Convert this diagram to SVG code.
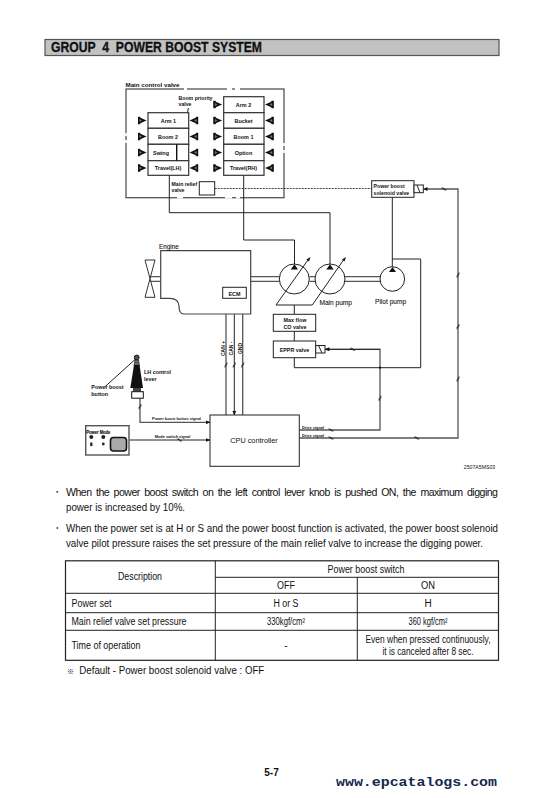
<svg xmlns="http://www.w3.org/2000/svg" width="548" height="798" viewBox="0 0 548 798">
<style>
text{font-family:"Liberation Sans",Arial,sans-serif;fill:#111}
.box{fill:#fff;stroke:#222;stroke-width:1}
.w{fill:#fff;stroke:#333;stroke-width:1.2}
.ln{fill:none;stroke:#222;stroke-width:1}
.g{fill:none;stroke:#555;stroke-width:1.3}
.t5{font-size:5.4px;font-weight:bold;text-anchor:middle}
.l5{font-size:5.2px;font-weight:bold}
.s4{font-size:3.9px;font-weight:bold;text-anchor:middle}
.rot{font-size:5px;font-weight:bold;text-anchor:middle}
.b{font-size:10.6px}
.c{font-size:10px;text-anchor:middle}
.tl{font-size:10px}
.tb{fill:none;stroke:#222;stroke-width:1}
</style>
<defs>
<marker id="ah" markerWidth="5" markerHeight="4" refX="4.5" refY="2" orient="auto" markerUnits="userSpaceOnUse"><path d="M0 0L5 2L0 4Z" fill="#111"/></marker>
<g id="pE"><rect x="0" y="-.7" width="2.2" height="7.4" fill="#111"/><path d="M0-.7L8.6 3L0 6.7Z" fill="#111"/><path d="M1.4 1.5L4 3L1.4 4.5Z" fill="#777"/></g>
<g id="pL"><rect x="6.4" y="-.7" width="2.2" height="7.4" fill="#111"/><path d="M8.6-.7L0 3L8.6 6.7Z" fill="#111"/><path d="M7.2 1.5L4.6 3L7.2 4.5Z" fill="#777"/></g>
<path id="tick" d="M-1.6 1.1L1.6-1.1M-1.1 2.6L1.1-2.6" fill="none" stroke="#222" stroke-width=".8"/>
</defs>

<g id="title">
<rect x="45" y="39.5" width="454" height="16" fill="#c2c2c2" stroke="#555" stroke-width="1.2"/>
<text x="51" y="52.4" font-size="14" font-weight="bold" stroke="#111" stroke-width=".3" textLength="211" lengthAdjust="spacingAndGlyphs" style="white-space:pre">GROUP  4  POWER BOOST SYSTEM</text>
</g>

<g id="connectors">
<rect class="g" x="126" y="89" width="158" height="108.7"/>
<path d="M184 89H187M227 89H232M235 89H240M126 133V136M126 140V143M284 143V146M284 150V153M177 197.7H183M225 197.7H232M236 197.7H240" stroke="#fff" stroke-width="1.8" fill="none"/>
<path class="ln" d="M169.3 175V212.7H330V264"/>
<path class="ln" d="M243.7 175V240H294.5V264"/>
<path d="M214.7 188.5H371.7" fill="none" stroke="#444" stroke-width="1.2" stroke-dasharray="2 1"/>
<path class="g" d="M423.3 189H458V438H299.3"/>
<path class="ln" d="M392.3 197.3V267"/>
<path class="ln" d="M392.3 259H420.7V367.7H294.3V357.7"/>
<path class="g" d="M299.3 430H380V349.3H330"/>
<path class="ln" d="M380 349.3H325" marker-end="url(#ah)"/>
<path class="ln" d="M294.3 305V314.3M294.3 331.3V341"/>
<path class="g" d="M250.7 276.7H279.5M250.7 281.3H279.5M309.5 276.7H315M309.5 281.3H315M345 276.7H380M345 281.3H380"/>
<path class="g" d="M150 276.7H160.7M150 281.3H160.7"/>
<path class="g" d="M226 415V298.5" marker-end="url(#ah)"/>
<path class="ln" d="M234.3 298.3V415" marker-end="url(#ah)"/>
<path class="g" d="M242.7 298.3V415"/>
<path class="g" d="M140 398V422.3H210" marker-end="url(#ah)"/>
<path class="ln" d="M129 440H210" marker-end="url(#ah)"/>
<path class="ln" d="M105 386.7L136.7 358"/>
<path class="ln" d="M188.4 108L181 147.5"/>
<use href="#tick" x="444" y="189" transform="rotate(90 444 189)"/>
<use href="#tick" x="458" y="275"/>
<use href="#tick" x="458" y="326.7"/>
<use href="#tick" x="458" y="379"/>
<use href="#tick" x="380" y="398.3"/>
<use href="#tick" x="226" y="365"/>
<use href="#tick" x="234.3" y="365"/>
<use href="#tick" x="242.7" y="365"/>
<use href="#tick" x="140" y="406.7"/>
<use href="#tick" x="179.5" y="440" transform="rotate(90 179.5 440)"/>
<use href="#tick" x="352.7" y="349.3" transform="rotate(90 352.7 349.3)"/>
<use href="#tick" x="331" y="430" transform="rotate(90 331 430)"/>
<use href="#tick" x="331" y="438" transform="rotate(90 331 438)"/>
<use href="#tick" x="416.7" y="438" transform="rotate(90 416.7 438)"/>
<circle cx="380" cy="367.7" r="1.1" fill="#111"/>
</g>

<g id="main-control-valve">
<text x="125.5" y="87.3" font-size="6.2" font-weight="bold" textLength="54" lengthAdjust="spacingAndGlyphs">Main control valve</text>
<text x="178.5" y="99.5" class="l5">Boom priority</text>
<text x="178.5" y="106" class="l5">valve</text>
</g>
<g id="spool-left">
<rect class="w" x="148" y="112.7" width="40.7" height="15.6"/>
<rect class="w" x="148" y="128.3" width="40.7" height="16"/>
<rect class="w" x="148" y="144.3" width="40.7" height="16.4"/>
<rect class="w" x="148" y="160.7" width="40.7" height="14.6"/>
<path d="M176.7 144.3V160.7" stroke="#111" stroke-width="1.4"/>
<text x="168.4" y="123" class="t5">Arm 1</text>
<text x="168" y="139" class="t5">Boom 2</text>
<text x="161" y="155" class="t5">Swing</text>
<text x="168" y="170" class="t5">Travel(LH)</text>
</g>
<g id="spool-right">
<rect class="w" x="223.7" y="96.7" width="40.3" height="16"/>
<rect class="w" x="223.7" y="112.7" width="40.3" height="15.6"/>
<rect class="w" x="223.7" y="128.3" width="40.3" height="16"/>
<rect class="w" x="223.7" y="144.3" width="40.3" height="16.4"/>
<rect class="w" x="223.7" y="160.7" width="40.3" height="14.6"/>
<text x="243.5" y="106.5" class="t5">Arm 2</text>
<text x="243.5" y="123" class="t5">Bucket</text>
<text x="243.5" y="139" class="t5">Boom 1</text>
<text x="243.5" y="154.5" class="t5">Option</text>
<text x="243.5" y="170" class="t5">Travel(RH)</text>
</g>
<g id="pilots">
<use href="#pE" x="138" y="117.5"/><use href="#pE" x="138" y="133.5"/><use href="#pE" x="138" y="149.5"/><use href="#pE" x="138" y="165"/>
<use href="#pL" x="189.5" y="117.5"/><use href="#pL" x="189.5" y="133.5"/><use href="#pL" x="189.5" y="149.5"/><use href="#pL" x="189.5" y="165"/>
<use href="#pE" x="213.5" y="101.5"/><use href="#pE" x="213.5" y="117.5"/><use href="#pE" x="213.5" y="133.5"/><use href="#pE" x="213.5" y="149.5"/><use href="#pE" x="213.5" y="165"/>
<use href="#pL" x="265" y="101.5"/><use href="#pL" x="265" y="117.5"/><use href="#pL" x="265" y="133.5"/><use href="#pL" x="265" y="149.5"/><use href="#pL" x="265" y="165"/>
</g>
<g id="main-relief-valve">
<rect class="box" x="199.3" y="181.7" width="15.4" height="13.3" stroke-width="1.2"/>
<text x="171.5" y="185.5" class="l5">Main relief</text>
<text x="171.5" y="192" class="l5">valve</text>
</g>
<g id="solenoid-valve">
<rect class="box" x="371.7" y="180.7" width="42.3" height="16.6" stroke-width="1.2"/>
<text x="373.5" y="187.5" class="l5">Power boost</text>
<text x="373.5" y="195" class="l5">solenoid valve</text>
<rect class="box" x="414" y="185" width="9.3" height="7.7"/>
<path class="ln" d="M417 185L420 192.7"/>
<path d="M423.5 189L427.5 187V191Z" fill="#111"/>
</g>
<g id="engine">
<path d="M160.7 298.3V250.7H250.7V314H184C180 314 179 311 179 306C179 301 175 298.3 170 298.3Z" fill="#fff" stroke="#444" stroke-width="1.2"/>
<text x="159" y="249" font-size="6.4" stroke="#111" stroke-width=".1">Engine</text>
<path d="M145 260H155L145 297.3H155Z" fill="#fff" stroke="#333" stroke-width="1"/>
</g>
<g id="ecm">
<rect class="box" x="222.7" y="287.3" width="23.6" height="11" stroke-width="1.2"/>
<text x="234.5" y="295.5" class="t5">ECM</text>
<text class="rot" transform="translate(225.2 348.5) rotate(-90)">CAN +</text>
<text class="rot" transform="translate(233.4 348.5) rotate(-90)">CAN -</text>
<text class="rot" transform="translate(242 348.5) rotate(-90)">GND</text>
</g>
<g id="main-pump">
<circle class="box" cx="294.3" cy="279" r="15"/>
<circle class="box" cx="330" cy="279" r="15"/>
<path d="M290.7 269.5L294.5 264.3L298 269.5Z M326.3 269.5L330 264.3L333.7 269.5Z" fill="#111"/>
<path class="ln" d="M276 305H312.3M276 305L309 258.5M312.3 305L344.5 258.5"/>
<path d="M310.5 257L306.5 259.5L309 261.5Z M346 257L342 259.5L344.5 261.5Z" fill="#111"/>
<text x="319.4" y="305" font-size="6.6" stroke="#111" stroke-width=".08">Main pump</text>
</g>
<g id="pilot-pump">
<circle class="box" cx="392.3" cy="279" r="12.3"/>
<path d="M389 272L392.5 267L396 272Z" fill="#111"/>
<text x="375" y="304" font-size="6.6" stroke="#111" stroke-width=".08">Pilot pump</text>
</g>
<g id="max-flow">
<rect class="box" x="273.3" y="314.3" width="42.4" height="17" stroke-width="1.2"/>
<text x="295" y="322" class="t5">Max flow</text>
<text x="295" y="329" class="t5">CO valve</text>
</g>
<g id="eppr">
<rect class="box" x="273.3" y="341" width="42.4" height="16.7" stroke-width="1.2"/>
<text x="294.5" y="352" class="t5">EPPR valve</text>
<rect class="box" x="315.7" y="345.5" width="9.3" height="7.5"/>
<path class="ln" d="M318.5 345.5L322 353"/>
</g>
<g id="lever">
<circle cx="136.7" cy="357.5" r="2.4" fill="#555" stroke="#111" stroke-width="1"/>
<path d="M135 360L134 366H139.5L138.5 360Z" fill="#666" stroke="#222" stroke-width=".7"/>
<path d="M134 365L130.3 388H143L139.5 365Z" fill="#111"/>
<rect x="133" y="388" width="8" height="3.7" fill="#444"/>
<rect x="131.7" y="391.7" width="11.6" height="6.5" fill="#fff" stroke="#111" stroke-width="1"/>
<text x="144" y="374" class="l5" style="font-size:5.4px">LH control</text>
<text x="144" y="381" class="l5" style="font-size:5.4px">lever</text>
<text x="91.3" y="389" class="l5" style="font-size:5.4px">Power boost</text>
<text x="91.3" y="396" class="l5" style="font-size:5.4px">button</text>
</g>
<g id="power-mode">
<rect x="85.7" y="425.7" width="43.3" height="29.3" fill="#fff" stroke="#555" stroke-width="1.4"/>
<text x="86.3" y="433.7" font-size="5" font-weight="bold" stroke="#111" stroke-width=".15" textLength="24" lengthAdjust="spacingAndGlyphs">Power Mode</text>
<circle cx="91.3" cy="437" r="2" fill="#222"/><circle cx="103.3" cy="437" r="2" fill="#222"/>
<rect x="90.2" y="442.5" width="2.2" height="3.6" fill="#222"/><circle cx="103.3" cy="444" r="1.4" fill="#222"/>
<rect x="110.5" y="437.5" width="16" height="13.5" rx="3" fill="#aaa" stroke="#111" stroke-width="1.6"/>
</g>
<g id="cpu">
<rect class="box" x="210" y="415" width="89.3" height="51.3" stroke-width="1.2"/>
<text x="254" y="443" font-size="7.3" text-anchor="middle">CPU controller</text>
</g>
<g id="signal-labels">
<text x="176.5" y="420" class="s4">Power boost button signal</text>
<text x="172.5" y="438" class="s4">Mode switch signal</text>
<text x="313" y="429" class="s4">Drive signal</text>
<text x="313" y="437" class="s4">Drive signal</text>
<text x="479.5" y="468.5" font-size="5.2" text-anchor="middle">2507A5MS03</text>
</g>

<g id="paragraphs">
<rect x="56.5" y="491" width="1.6" height="1.6" fill="#333"/>
<text x="66" y="495.7" class="b" textLength="432" lengthAdjust="spacing" style="word-spacing:2px">When the power boost switch on the left control lever knob is pushed ON, the maximum digging</text>
<text x="66" y="510.7" class="b" textLength="119" lengthAdjust="spacingAndGlyphs">power is increased by 10%.</text>
<rect x="56.5" y="527.2" width="1.6" height="1.6" fill="#333"/>
<text x="66" y="531.7" class="b" textLength="432" lengthAdjust="spacingAndGlyphs">When the power set is at H or S and the power boost function is activated, the power boost solenoid</text>
<text x="66" y="546.7" class="b" textLength="417" lengthAdjust="spacingAndGlyphs">valve pilot pressure raises the set pressure of the main relief valve to increase the digging power.</text>
</g>

<g id="table">
<rect x="65.5" y="560.8" width="433" height="99.5" fill="#fff" stroke="#222" stroke-width="1.2"/>
<path class="tb" d="M215.3 560.8V660.3M357.3 577.3V660.3M215.3 577.3H498.5M65.5 593.3H498.5M65.5 612.7H498.5M65.5 630.3H498.5"/>
<text x="140" y="580" class="c" textLength="44" lengthAdjust="spacingAndGlyphs">Description</text>
<text x="366" y="572.5" class="c" textLength="77" lengthAdjust="spacingAndGlyphs">Power boost switch</text>
<text x="286" y="589" class="c" textLength="18" lengthAdjust="spacingAndGlyphs">OFF</text>
<text x="428" y="589" class="c" textLength="14" lengthAdjust="spacingAndGlyphs">ON</text>
<text x="71.5" y="607" class="tl" textLength="40" lengthAdjust="spacingAndGlyphs">Power set</text>
<text x="286" y="607" class="c" textLength="25" lengthAdjust="spacingAndGlyphs">H or S</text>
<text x="428" y="607" class="c">H</text>
<text x="71.5" y="625" class="tl" textLength="115" lengthAdjust="spacingAndGlyphs">Main relief valve set pressure</text>
<text x="286" y="625" class="c" textLength="38" lengthAdjust="spacingAndGlyphs">330kgf/cm²</text>
<text x="428" y="625" class="c" textLength="39" lengthAdjust="spacingAndGlyphs">360 kgf/cm²</text>
<text x="71.5" y="649" class="tl" textLength="69" lengthAdjust="spacingAndGlyphs">Time of operation</text>
<text x="286" y="649" class="c">-</text>
<text x="428" y="642.7" class="c" textLength="125" lengthAdjust="spacingAndGlyphs">Even when pressed continuously,</text>
<text x="428" y="655" class="c" textLength="91" lengthAdjust="spacingAndGlyphs">it is canceled after 8 sec.</text>
<text x="67" y="674" style="font-size:7px;font-family:'Noto Sans CJK KR','Liberation Sans',sans-serif">※</text>
<text x="79.3" y="674" class="tl" textLength="185" lengthAdjust="spacingAndGlyphs">Default - Power boost solenoid valve : OFF</text>
</g>

<g id="footer">
<text x="271.5" y="776" font-size="10" font-weight="bold" text-anchor="middle">5-7</text>
<text x="336" y="786" font-size="13.4" font-weight="bold" style="font-family:'Liberation Mono',monospace;fill:#13294b" textLength="161" lengthAdjust="spacingAndGlyphs">www.epcatalogs.com</text>
</g>
</svg>
